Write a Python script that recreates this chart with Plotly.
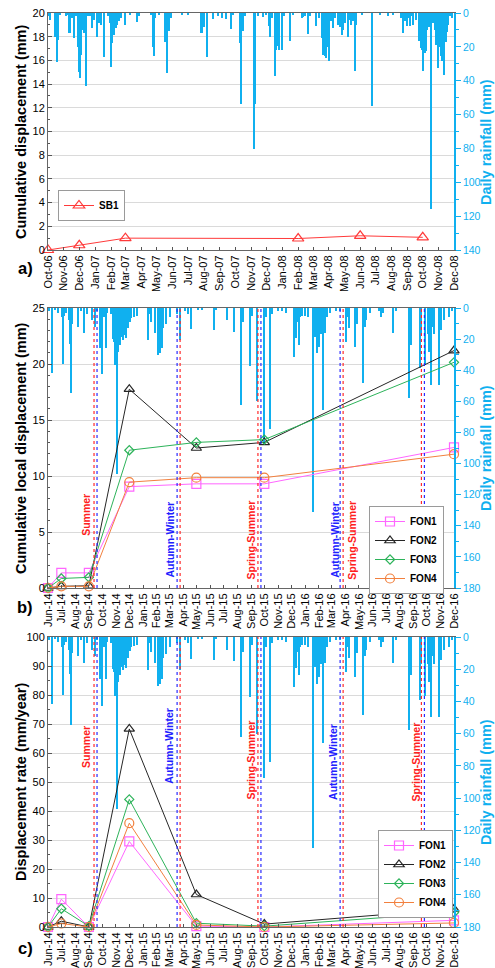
import plotly.graph_objects as go

# ---------------- DATA ----------------
sb1_dates = ["2006-10-01", "2006-12-01", "2007-03-01", "2008-02-01", "2008-06-01", "2008-10-01"]
sb1_disp = [0.0, 0.4, 1.0, 0.97, 1.2, 1.07]

fon_dates = ["2014-06-01", "2014-07-01", "2014-09-01", "2014-12-01", "2015-05-01", "2015-10-01", "2016-12-01"]
fon1_cum = [0.0, 1.35, 1.35, 9.05, 9.3, 9.3, 12.55]
fon2_cum = [0.0, 0.15, 0.2, 17.75, 12.5, 13.0, 21.2]
fon3_cum = [0.0, 0.85, 0.95, 12.3, 13.0, 13.25, 20.15]
fon4_cum = [0.0, 0.15, 0.15, 9.45, 9.85, 9.85, 11.95]

fon1_rate = [0.0, 9.6, 0.0, 29.5, 0.3, 0.0, 2.3]
fon2_rate = [0.0, 2.0, 0.0, 68.3, 11.2, 1.0, 6.2]
fon3_rate = [0.0, 6.3, 0.3, 44.0, 1.3, 0.3, 5.0]
fon4_rate = [0.0, 1.2, 0.0, 35.8, 0.7, 0.0, 1.4]

rain_a_dates = [
    "2006-10-03", "2006-10-05", "2006-10-15", "2006-10-17", "2006-10-19", "2006-10-21", "2006-10-25",
    "2006-11-05", "2006-11-09", "2006-11-11", "2006-11-13", "2006-11-17", "2006-11-21", "2006-11-25",
    "2006-11-28", "2006-11-30", "2006-12-02", "2006-12-04", "2006-12-06", "2006-12-11", "2006-12-14",
    "2006-12-18", "2006-12-22", "2006-12-27", "2006-12-30", "2007-01-04", "2007-01-08", "2007-01-12",
    "2007-01-19", "2007-01-26", "2007-01-30", "2007-02-02", "2007-02-04", "2007-02-07", "2007-02-10",
    "2007-02-13", "2007-02-16", "2007-02-20", "2007-02-28", "2007-03-10", "2007-03-23", "2007-03-27",
    "2007-04-20", "2007-04-24", "2007-04-26", "2007-04-29", "2007-05-05", "2007-05-17", "2007-05-19",
    "2007-05-22", "2007-05-26", "2007-05-30", "2007-06-20", "2007-07-01", "2007-07-26", "2007-07-29",
    "2007-08-01", "2007-08-08", "2007-08-19", "2007-08-28", "2007-09-05", "2007-09-14", "2007-09-23",
    "2007-09-28", "2007-10-10", "2007-10-12", "2007-10-16", "2007-10-20", "2007-11-07", "2007-11-09",
    "2007-11-15", "2007-11-24", "2007-12-01", "2007-12-06", "2007-12-08", "2007-12-12", "2007-12-18",
    "2007-12-20", "2007-12-21", "2007-12-24", "2007-12-26", "2007-12-31", "2008-01-05", "2008-01-16",
    "2008-01-22", "2008-02-08", "2008-02-11", "2008-02-14", "2008-02-21", "2008-02-25", "2008-03-07",
    "2008-03-13", "2008-03-19", "2008-03-21", "2008-03-24", "2008-03-27", "2008-03-30", "2008-04-02",
    "2008-04-06", "2008-04-09", "2008-04-14", "2008-04-19", "2008-04-22", "2008-04-26", "2008-04-29",
    "2008-05-03", "2008-05-09", "2008-05-12", "2008-05-15", "2008-05-18", "2008-05-22", "2008-05-25",
    "2008-06-05", "2008-06-24", "2008-07-10", "2008-07-26", "2008-08-05", "2008-08-20", "2008-08-24",
    "2008-08-27", "2008-08-31", "2008-09-03", "2008-09-06", "2008-09-10", "2008-09-13", "2008-09-19",
    "2008-09-25", "2008-09-27", "2008-09-30", "2008-10-02", "2008-10-04", "2008-10-06", "2008-10-08",
    "2008-10-10", "2008-10-13", "2008-10-17", "2008-10-22", "2008-10-26", "2008-10-28", "2008-10-31",
    "2008-11-03", "2008-11-05", "2008-11-07", "2008-11-09", "2008-11-12", "2008-11-15", "2008-11-17",
    "2008-11-20", "2008-11-24", "2008-11-27",
]
rain_a_mm = [
    2, 4, 14, 8, 28.7, 16, 1,
    1.5, 1, 11.8, 12, 3, 15, 2,
    20, 34.7, 38.6, 25, 10, 12, 43,
    2, 1.5, 9, 4, 14, 6, 7,
    25.8, 2, 6, 31.7, 18, 12.8, 9,
    7, 5, 3, 6.9, 1, 5.2, 2,
    1, 19.9, 25.4, 3, 1, 17, 8,
    35.3, 10.8, 3, 1, 1, 11.6, 11.8,
    8, 26.2, 3.5, 1.5, 3, 3.5, 9.5,
    1, 17.9, 53.7, 10.8, 2, 80.3, 54,
    2, 2.5, 1, 7.9, 14, 3, 37.4,
    21.7, 16.7, 19.7, 22, 21.7, 2, 16.7,
    1, 3, 2.5, 2, 12.4, 2, 7.9,
    3, 15, 24.6, 25.5, 26.6, 20, 28.5,
    5, 9, 3, 6.9, 8, 12.8, 10,
    6, 14.4, 4, 7, 5, 34, 6.9,
    1, 54.7, 1, 1.5, 1, 3, 11.8,
    5, 7.9, 3, 7.9, 2, 6.9, 4,
    16.5, 20.7, 22, 34.5, 23.7, 23.7, 22.5,
    10, 8, 115.8, 6, 10, 18.7, 32.5,
    20, 25.6, 28.5, 14, 36.4, 17, 11,
    7, 2, 3,
]

rain_bc_dates = [
    "2014-06-03", "2014-06-10", "2014-06-16", "2014-06-24", "2014-07-02", "2014-07-04", "2014-07-07",
    "2014-07-12", "2014-07-18", "2014-07-20", "2014-07-22", "2014-07-26", "2014-08-08", "2014-08-14",
    "2014-08-21", "2014-08-28", "2014-09-09", "2014-09-14", "2014-09-20", "2014-09-26", "2014-10-02",
    "2014-10-06", "2014-10-09", "2014-10-12", "2014-10-22", "2014-10-25", "2014-10-27", "2014-10-29",
    "2014-10-31", "2014-11-01", "2014-11-03", "2014-11-06", "2014-11-08", "2014-11-10", "2014-11-12",
    "2014-11-14", "2014-11-17", "2014-11-19", "2014-11-21", "2014-11-23", "2014-11-25", "2014-11-29",
    "2014-12-03", "2014-12-06", "2014-12-12", "2014-12-18", "2015-01-12", "2015-01-16", "2015-01-20",
    "2015-01-28", "2015-02-03", "2015-02-08", "2015-02-12", "2015-02-16", "2015-02-23", "2015-03-03",
    "2015-03-18", "2015-03-25", "2015-04-05", "2015-04-13", "2015-04-19", "2015-05-05", "2015-05-13",
    "2015-06-10", "2015-06-14", "2015-07-10", "2015-07-26", "2015-08-09", "2015-08-14", "2015-08-31",
    "2015-09-03", "2015-09-14", "2015-09-30", "2015-10-04", "2015-10-13", "2015-10-18", "2015-11-01",
    "2015-11-10", "2015-11-20", "2015-12-06", "2015-12-09", "2015-12-12", "2015-12-15", "2015-12-18",
    "2015-12-20", "2015-12-26", "2016-01-01", "2016-01-08", "2016-01-19", "2016-01-23", "2016-01-27",
    "2016-01-30", "2016-02-02", "2016-02-06", "2016-02-11", "2016-02-15", "2016-02-19", "2016-02-26",
    "2016-03-10", "2016-03-20", "2016-04-02", "2016-04-06", "2016-04-10", "2016-04-22", "2016-04-26",
    "2016-05-11", "2016-05-14", "2016-05-18", "2016-05-27", "2016-06-15", "2016-06-19", "2016-06-25",
    "2016-07-17", "2016-07-24", "2016-08-21", "2016-08-23", "2016-08-26", "2016-09-16", "2016-09-19",
    "2016-09-28", "2016-10-03", "2016-10-07", "2016-10-11", "2016-10-15", "2016-10-18", "2016-10-28",
    "2016-11-03", "2016-11-09", "2016-11-20", "2016-11-27",
]
rain_bc_mm = [
    2, 41.5, 1, 3, 6, 36.3, 5,
    3, 8, 23, 54.4, 10, 12, 2,
    16, 4, 8, 12, 2, 26, 42.6,
    6, 26, 3, 4, 20, 21.6, 12,
    36.6, 15, 107, 28, 9, 23.8, 11,
    18.4, 20.6, 8, 17.4, 7, 19.5, 13,
    8.7, 6.5, 5.5, 5, 20.6, 4, 9,
    16, 30.2, 29, 25.8, 13, 10.4, 6,
    4, 20.6, 2, 4, 13.5, 1.5, 1.5,
    14, 1, 8, 15.2, 62.3, 9, 37,
    5, 60, 87.5, 6, 77.5, 4, 2,
    2, 3, 31.3, 7, 19, 9, 23.8,
    6, 5, 5, 6, 131, 18.5, 29,
    16, 25, 17, 65.6, 16, 6, 3,
    2, 2, 21.6, 6, 13, 24.8, 10,
    48.4, 12, 8, 3, 2, 6, 3,
    16.3, 2, 58, 26.5, 23.8, 38.8, 17,
    36.6, 16.5, 28, 49.5, 12, 17, 49.5,
    14, 8, 6, 2,
]

season_dates = ["2014-09-16", "2015-03-22", "2015-09-20", "2016-03-23", "2016-09-22"]
season_first = ["red", "blue", "red", "blue", "red"]

# ---------------- STYLE ----------------
W, H = 495, 968
FONT = "Liberation Sans, Arial, sans-serif"
BLUE = "#10b0ef"
RED = "#ff3a3a"
C_FON = {"FON1": "#ff66ff", "FON2": "#262626", "FON3": "#2db35a", "FON4": "#f2803e"}
SYM = {"FON1": "square-open", "FON2": "triangle-up-open", "FON3": "diamond-open", "FON4": "circle-open"}
SIZE = {"FON1": 9, "FON2": 9, "FON3": 7, "FON4": 9}

XD = [48 / W, 454 / W]


def ydom(top, bot):
    return [1 - bot / H, 1 - top / H]


DOM = {1: ydom(13, 250), 2: ydom(308, 588), 3: ydom(637, 927)}
DAY = 86400000

fig = go.Figure()

# rain bars (main axes y, y3, y5), displacement on overlaying axes (y2, y4, y6)
fig.add_trace(go.Bar(x=rain_a_dates, y=rain_a_mm, width=2.6 * DAY, marker=dict(color=BLUE, line=dict(width=0)),
                     xaxis="x", yaxis="y", showlegend=False, hoverinfo="skip"))
for xa, ya in [("x2", "y3"), ("x3", "y5")]:
    fig.add_trace(go.Bar(x=rain_bc_dates, y=rain_bc_mm, width=2.9 * DAY, marker=dict(color=BLUE, line=dict(width=0)),
                         xaxis=xa, yaxis=ya, showlegend=False, hoverinfo="skip"))

fig.add_trace(go.Scatter(x=sb1_dates, y=sb1_disp, mode="lines+markers", name="SB1",
                         line=dict(color=RED, width=1),
                         marker=dict(symbol="triangle-up-open", size=10, color=RED, line=dict(width=1.2)),
                         xaxis="x", yaxis="y2", legend="legend", cliponaxis=False))

cum = {"FON1": fon1_cum, "FON2": fon2_cum, "FON3": fon3_cum, "FON4": fon4_cum}
rate = {"FON1": fon1_rate, "FON2": fon2_rate, "FON3": fon3_rate, "FON4": fon4_rate}
for key in ["FON1", "FON2", "FON3", "FON4"]:
    for data, xa, ya, lg in [(cum, "x2", "y4", "legend2"), (rate, "x3", "y6", "legend3")]:
        fig.add_trace(go.Scatter(x=fon_dates, y=data[key], mode="lines+markers", name=key,
                                 line=dict(color=C_FON[key], width=1),
                                 marker=dict(symbol=SYM[key], size=SIZE[key], color=C_FON[key], line=dict(width=1.2)),
                                 xaxis=xa, yaxis=ya, legend=lg, cliponaxis=False))


def xaxis(rng, anchor):
    return dict(type="date", domain=XD, anchor=anchor, range=rng, tickformat="%b-%y", dtick="M1",
                tick0=rng[0], tickangle=-90, tickfont=dict(size=11, color="black", family=FONT),
                ticks="inside", ticklen=3, tickcolor="#555", showline=True, linecolor="#666", linewidth=1,
                mirror=True, showgrid=False, zeroline=False, automargin=False)


def rainaxis(dom, rmax, anchor):
    return dict(domain=dom, anchor=anchor, side="right", range=[rmax, 0], dtick=20, tick0=0,
                tickfont=dict(size=10.5, color=BLUE, family=FONT), ticks="outside", ticklen=5,
                tickcolor=BLUE, tickwidth=1.2,
                minor=dict(dtick=10, ticks="outside", ticklen=3, tickcolor=BLUE, tickwidth=1.2),
                showline=True, linecolor=BLUE, linewidth=1.6, showgrid=False, zeroline=False, automargin=False)


def dispaxis(over, anchor, rng, dt, mdt):
    return dict(overlaying=over, anchor=anchor, side="left", range=rng, dtick=dt, tick0=0,
                tickfont=dict(size=11, color="black", family=FONT), ticks="inside", ticklen=4, tickcolor="#555",
                minor=dict(dtick=mdt, ticks="inside", ticklen=2, tickcolor="#555"),
                showline=True, linecolor="#666", linewidth=1, showgrid=True, gridcolor="#dadada", gridwidth=1,
                zeroline=False, automargin=False)


legend_common = dict(bgcolor="white", bordercolor="#9a9a9a", borderwidth=1,
                     font=dict(size=10, color="black", family=FONT, weight="bold"),
                     xanchor="left", yanchor="top", itemwidth=30, tracegroupgap=0)

fig.update_layout(
    width=W, height=H, autosize=False, margin=dict(l=0, r=0, t=0, b=0),
    template="none", paper_bgcolor="white", plot_bgcolor="white",
    font=dict(family=FONT, color="black"), bargap=0,
    xaxis=xaxis(["2006-10-01", "2008-12-01"], "y"),
    xaxis2=xaxis(["2014-06-01", "2016-12-01"], "y3"),
    xaxis3=xaxis(["2014-06-01", "2016-12-01"], "y5"),
    yaxis=rainaxis(DOM[1], 140, "x"),
    yaxis3=rainaxis(DOM[2], 180, "x2"),
    yaxis5=rainaxis(DOM[3], 180, "x3"),
    yaxis2=dispaxis("y", "x", [0, 20], 2, 1),
    yaxis4=dispaxis("y3", "x2", [0, 25], 5, 1),
    yaxis6=dispaxis("y5", "x3", [0, 100], 10, 5),
    legend=dict(legend_common, x=58 / W, y=1 - 190 / H),
    legend2=dict(legend_common, x=369 / W, y=1 - 506 / H),
    legend3=dict(legend_common, x=378 / W, y=1 - 830 / H),
    showlegend=True,
)

# season boundary lines (red + blue dotted pairs)
shapes = []
for xa, ya in [("x2", "y3"), ("x3", "y5")]:
    for d, first in zip(season_dates, season_first):
        cols = ["#ff2a2a", "#2a2aff"] if first == "red" else ["#2a2aff", "#ff2a2a"]
        for k, col in enumerate(cols):
            off = -1.5 + 3 * k
            shapes.append(dict(type="line", xref=xa, yref=ya + " domain", xsizemode="pixel", xanchor=d,
                               x0=off, x1=off, y0=0, y1=1, line=dict(color=col, width=1.2, dash="dot"),
                               layer="above"))
fig.update_layout(shapes=shapes)

ann = []
# axis titles
for text, yc in [("Cumulative displacement (mm)", 132), ("Cumulative local displacement (mm)", 448),
                 ("Displacement rate (mm/year)", 782)]:
    ann.append(dict(text="<b>" + text + "</b>", x=21 / W, y=1 - yc / H, xref="paper", yref="paper",
                    textangle=-90, showarrow=False, xanchor="center", yanchor="middle",
                    font=dict(size=14.5, color="black", family=FONT)))
for yc in [142, 448, 782]:
    ann.append(dict(text="<b>Daily rainfall (mm)</b>", x=486 / W, y=1 - yc / H, xref="paper", yref="paper",
                    textangle=-90, showarrow=False, xanchor="center", yanchor="middle",
                    font=dict(size=14.5, color=BLUE, family=FONT)))
for text, yc in [("a)", 268), ("b)", 607), ("c)", 948)]:
    ann.append(dict(text="<b>" + text + "</b>", x=25 / W, y=1 - yc / H, xref="paper", yref="paper",
                    showarrow=False, xanchor="center", yanchor="middle",
                    font=dict(size=16.5, color="black", family=FONT)))

season_labels_b = [("Summer", "2014-08-27", 6.5, "#ff2020"), ("Autumn-Winter", "2015-03-02", 4.3, "#2020ff"),
                   ("Spring-Summer", "2015-08-31", 4.3, "#ff2020"), ("Autumn-Winter", "2016-03-08", 4.3, "#2020ff"),
                   ("Spring-Summer", "2016-04-15", 4.3, "#ff2020")]
season_labels_c = [("Summer", "2014-08-25", 62, "#ff2020"), ("Autumn-Winter", "2015-02-28", 62.4, "#2020ff"),
                   ("Spring-Summer", "2015-09-02", 57.6, "#ff2020"), ("Autumn-Winter", "2016-03-04", 57, "#2020ff"),
                   ("Spring-Summer", "2016-09-06", 57, "#ff2020")]
for labels, xa, ya in [(season_labels_b, "x2", "y4"), (season_labels_c, "x3", "y6")]:
    for text, d, yv, col in labels:
        ann.append(dict(text="<b>" + text + "</b>", x=d, y=yv, xref=xa, yref=ya, textangle=-90,
                        showarrow=False, xanchor="center", yanchor="middle",
                        font=dict(size=10.5, color=col, family=FONT)))
fig.update_layout(annotations=ann)

fig.write_html("out.html")
